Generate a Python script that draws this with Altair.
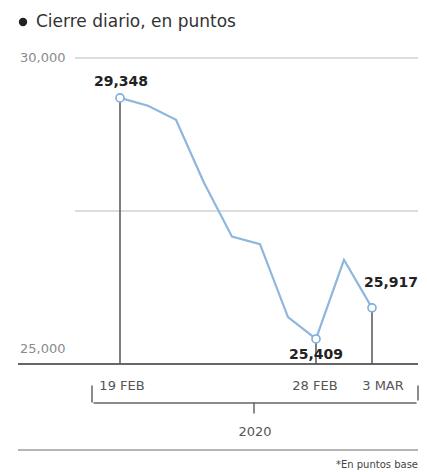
import altair as alt
import pandas as pd

# Data
dates = ["19 FEB", "20 FEB", "21 FEB", "24 FEB", "25 FEB", "26 FEB", "27 FEB", "28 FEB", "2 MAR", "3 MAR"]
values = [29348, 29220, 28992, 27961, 27081, 26958, 25767, 25409, 26703, 25917]
highlight_idx = [0, 7, 9]
highlight_labels = ["29,348", "25,409", "25,917"]
tick_idx = [0, 7, 9]
tick_labels = ["19 FEB", "28 FEB", "3 MAR"]
grid_values = [30000, 27500]
ylabel_values = [30000, 25000]
ylabel_text = ["30,000", "25,000"]
subtitle = "Cierre diario, en puntos"
year_label = "2020"
footnote = "*En puntos base"

FONT = "DejaVu Sans"
W, H = 411, 464

df = pd.DataFrame({"i": list(range(len(values))), "v": values, "d": dates})
hl = pd.DataFrame({"i": highlight_idx, "v": [values[k] for k in highlight_idx], "lab": highlight_labels,
                   "base": [25000] * 3})
ticks = pd.DataFrame({"i": tick_idx, "lab": tick_labels})
grid = pd.DataFrame({"v": grid_values})
ylab = pd.DataFrame({"v": ylabel_values, "lab": ylabel_text})
one = pd.DataFrame({"k": [0]})

xs = alt.Scale(domain=[-4, 10.679], range=[0, W], nice=False, zero=False)
ys = alt.Scale(domain=[23235, 30817], range=[H, 0], nice=False, zero=False)
X = lambda f: alt.X(f, type="quantitative", scale=xs, axis=None)
Y = lambda f: alt.Y(f, type="quantitative", scale=ys, axis=None)

gridl = alt.Chart(grid).mark_rule(color="#d2d2d2", strokeWidth=1.5).encode(
    y=Y("v"), x=alt.value(67), x2=alt.value(410))
base = alt.Chart(ylab[ylab.v == 25000]).mark_rule(color="#333333", strokeWidth=1.6).encode(
    y=Y("v"), x=alt.value(10), x2=alt.value(410))
ylab_top = alt.Chart(ylab[ylab.v == 30000]).mark_text(align="left", baseline="middle", font=FONT,
                                                      fontSize=13, color="#8a8a8a").encode(
    y=Y("v"), x=alt.value(12), text="lab:N")
ylab_bot = alt.Chart(ylab[ylab.v == 25000]).mark_text(align="left", baseline="middle", font=FONT,
                                                      fontSize=13, color="#8a8a8a", dy=-15).encode(
    y=Y("v"), x=alt.value(12), text="lab:N")

line = alt.Chart(df).mark_line(color="#8fb6de", strokeWidth=2.2).encode(x=X("i"), y=Y("v"))
vrules = alt.Chart(hl).mark_rule(color="#555555", strokeWidth=1.5).encode(
    x=X("i"), y=Y("v"), y2="base:Q")
pts = alt.Chart(hl).mark_point(shape="circle", size=65, filled=True, fill="white",
                               stroke="#7aaee0", strokeWidth=1.6, opacity=1).encode(x=X("i"), y=Y("v"))


def vlabel(k, dx, dy):
    return alt.Chart(hl[hl.i == k]).mark_text(font=FONT, fontSize=14, fontWeight="bold", color="#222222",
                                              baseline="middle", dx=dx, dy=dy).encode(
        x=X("i"), y=Y("v"), text="lab:N")


def xlabel(k, dx):
    return alt.Chart(ticks[ticks.i == k]).mark_text(font=FONT, fontSize=13, color="#555555",
                                                    baseline="middle", dx=dx).encode(
        x=X("i"), y=alt.value(378), text="lab:N")


br_style = dict(color="#666666", strokeWidth=1.5, strokeCap="round")
br_left = alt.Chart(one).mark_rule(**br_style).encode(x=alt.value(84), y=alt.value(378), y2=alt.value(394))
br_right = alt.Chart(one).mark_rule(**br_style).encode(x=alt.value(410), y=alt.value(378), y2=alt.value(392))
br_h = alt.Chart(one).mark_rule(**br_style).encode(x=alt.value(86), x2=alt.value(408), y=alt.value(395))
br_t = alt.Chart(one).mark_rule(**br_style).encode(x=alt.value(246), y=alt.value(395), y2=alt.value(405))
yr = alt.Chart(one).mark_text(font=FONT, fontSize=13, color="#555555", baseline="middle").encode(
    x=alt.value(247), y=alt.value(424), text=alt.value(year_label))
sep = alt.Chart(one).mark_rule(color="#b5b5b5", strokeWidth=2).encode(
    x=alt.value(10), x2=alt.value(410), y=alt.value(442))
foot = alt.Chart(one).mark_text(font=FONT, fontSize=10, color="#444444", align="right",
                                baseline="middle").encode(
    x=alt.value(410), y=alt.value(457), text=alt.value(footnote))

bullet = alt.Chart(one).mark_point(shape="circle", filled=True, size=70, color="#222222", opacity=1).encode(
    x=alt.value(15), y=alt.value(14))
sub = alt.Chart(one).mark_text(font=FONT, fontSize=17, color="#333333", align="left", baseline="middle").encode(
    x=alt.value(28), y=alt.value(14), text=alt.value(subtitle))

chart = alt.layer(
    gridl, base, ylab_top, ylab_bot, line, vrules, pts,
    vlabel(0, 1, -16), vlabel(7, 0, 16), vlabel(9, 19, -25),
    xlabel(0, 2), xlabel(7, -1), xlabel(9, 11),
    br_left, br_right, br_h, br_t, yr, sep, foot, bullet, sub
).properties(
    width=W, height=H, padding=0, background="white",
    autosize=alt.AutoSizeParams(type="none")
).configure_view(stroke=None, strokeWidth=0)

chart.save("out.html", embed_options={"renderer": "svg", "actions": False})
